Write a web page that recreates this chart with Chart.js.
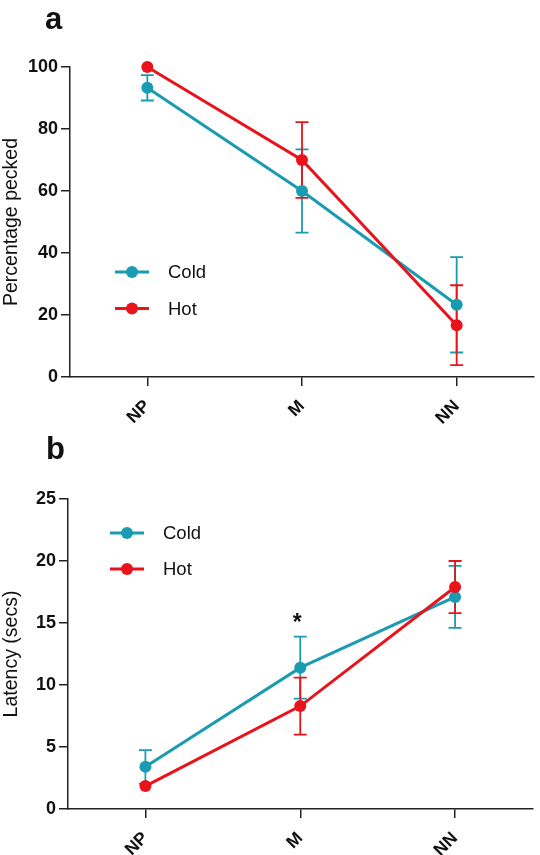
<!DOCTYPE html>
<html><head><meta charset="utf-8">
<script src="https://cdn.jsdelivr.net/npm/chart.js@4/dist/chart.umd.min.js"></script>
<style>
html,body{margin:0;padding:0;background:#fff;width:540px;height:855px;overflow:hidden}
.wrap{position:absolute;left:0;width:540px}
canvas{display:block}
</style></head><body>
<div class="wrap" style="top:0;height:430px"><canvas id="ca" width="540" height="430"></canvas></div>
<div class="wrap" style="top:430px;height:425px"><canvas id="cb" width="540" height="425"></canvas></div>
<script>
// ---- data ----
const categories = ['NP', 'M', 'NN'];
const seriesNames = ['Cold', 'Hot'];
const coldPecked = [93.3, 60.0, 23.3];
const coldPeckedErr = [4.1, 13.4, 15.4];
const hotPecked = [100, 70.0, 16.7];
const hotPeckedErr = [0, 12.2, 12.9];
const coldLatency = [3.4, 11.4, 17.1];
const coldLatencyErr = [1.35, 2.5, 2.5];
const hotLatency = [1.85, 8.3, 17.9];
const hotLatencyErr = [0, 2.3, 2.1];
const peckedTicks = [0, 20, 40, 60, 80, 100];
const latencyTicks = [0, 5, 10, 15, 20, 25];
const latencySignificance = ['', '*', ''];

const COLD = '#1b9bb2';
const HOT = '#e8131b';
const AXIS = '#222';
const FONT = "'Liberation Sans', Arial, Helvetica, sans-serif";

const errorBarPlugin = {
  id: 'errorBars',
  beforeDatasetsDraw(chart) {
    const ctx = chart.ctx;
    const ys = chart.scales.y;
    chart.data.datasets.forEach((ds, di) => {
      const meta = chart.getDatasetMeta(di);
      if (!ds.errors) return;
      ctx.save();
      ctx.strokeStyle = ds.borderColor;
      ctx.lineWidth = 1.8;
      meta.data.forEach((pt, i) => {
        const e = ds.errors[i];
        if (!e) return;
        const x = pt.x;
        const t = ys.getPixelForValue(ds.data[i] + e);
        const b = ys.getPixelForValue(ds.data[i] - e);
        ctx.beginPath();
        ctx.moveTo(x, t); ctx.lineTo(x, b);
        ctx.moveTo(x - 6.5, t); ctx.lineTo(x + 6.5, t);
        ctx.moveTo(x - 6.5, b); ctx.lineTo(x + 6.5, b);
        ctx.stroke();
      });
      ctx.restore();
    });
  }
};

const decorPlugin = {
  id: 'decor',
  afterDraw(chart) {
    const ctx = chart.ctx;
    const o = chart.options.plugins.decor;
    const area = chart.chartArea;
    ctx.save();
    // panel letter
    ctx.fillStyle = '#111';
    ctx.font = 'bold 31px ' + FONT;
    ctx.textAlign = 'left';
    ctx.textBaseline = 'alphabetic';
    ctx.fillText(o.letter, o.letterX, o.letterY);
    // legend
    const lx = area.left + o.legendDX;
    chart.data.datasets.forEach((ds, i) => {
      const y = o.legendY[i];
      ctx.strokeStyle = ds.borderColor;
      ctx.lineWidth = 3;
      ctx.beginPath();
      ctx.moveTo(lx, y); ctx.lineTo(lx + 34, y);
      ctx.stroke();
      ctx.fillStyle = ds.borderColor;
      ctx.beginPath();
      ctx.arc(lx + 17, y, 6, 0, Math.PI * 2);
      ctx.fill();
      ctx.fillStyle = '#111';
      ctx.font = '18.5px ' + FONT;
      ctx.textBaseline = 'middle';
      ctx.fillText(ds.label, lx + 53, y + 1);
    });
    // significance marks
    if (o.sig) {
      const ys = chart.scales.y;
      const meta = chart.getDatasetMeta(0);
      const ds = chart.data.datasets[0];
      ctx.fillStyle = '#111';
      ctx.font = 'bold 23px ' + FONT;
      ctx.textAlign = 'center';
      ctx.textBaseline = 'alphabetic';
      o.sig.forEach((s, i) => {
        if (!s) return;
        const x = meta.data[i].x - 3;
        const y = ys.getPixelForValue(ds.data[i] + ds.errors[i]) - 7;
        ctx.fillText(s, x, y);
      });
    }
    ctx.restore();
  }
};

function makeChart(id, cfg) {
  return new Chart(document.getElementById(id), {
    type: 'line',
    data: {
      labels: categories,
      datasets: [
        { label: seriesNames[0], data: cfg.cold, errors: cfg.coldErr, borderColor: COLD, backgroundColor: COLD,
          pointBackgroundColor: COLD, pointBorderWidth: 0, pointRadius: 6, borderWidth: 3, tension: 0, order: 1, clip: false },
        { label: seriesNames[1], data: cfg.hot, errors: cfg.hotErr, borderColor: HOT, backgroundColor: HOT,
          pointBackgroundColor: HOT, pointBorderWidth: 0, pointRadius: 6, borderWidth: 3, tension: 0, order: 0, clip: false }
      ]
    },
    options: {
      responsive: false,
      animation: false,
      devicePixelRatio: 1,
      layout: { padding: { top: cfg.padTop, right: cfg.padRight, left: 0, bottom: 0 } },
      plugins: {
        legend: { display: false },
        tooltip: { enabled: false },
        decor: { letter: cfg.letter, letterX: cfg.letterX, letterY: cfg.letterY, legendDX: cfg.legendDX, legendY: cfg.legendY, sig: cfg.sig }
      },
      scales: {
        x: {
          type: 'category',
          offset: true,
          grid: { display: true, drawOnChartArea: false, drawTicks: true, tickLength: 9, offset: false, color: AXIS, lineWidth: 1.5 },
          border: { display: true, color: AXIS, width: 1.5 },
          ticks: { maxRotation: 45, minRotation: 45, padding: 10, color: '#111', font: { family: FONT, size: 17.5, weight: 'bold' } },
          afterFit: s => { s.height = cfg.xHeight; }
        },
        y: {
          min: cfg.ticks[0], max: cfg.ticks[cfg.ticks.length - 1],
          afterBuildTicks: s => { s.ticks = cfg.ticks.map(v => ({ value: v })); },
          grid: { display: true, drawOnChartArea: false, drawTicks: true, tickLength: 9, color: AXIS, lineWidth: 1.5 },
          border: { display: true, color: AXIS, width: 1.5 },
          ticks: { padding: 3, color: '#111', font: { family: FONT, size: 18, weight: 'bold' } },
          title: { display: true, text: cfg.yTitle, color: '#111', padding: 0, font: { family: FONT, size: 19.5, weight: 'normal' } },
          afterFit: s => { s.width = cfg.yWidth; }
        }
      }
    },
    plugins: [errorBarPlugin, decorPlugin]
  });
}

makeChart('ca', {
  cold: coldPecked, coldErr: coldPeckedErr, hot: hotPecked, hotErr: hotPeckedErr,
  ticks: peckedTicks, yTitle: 'Percentage pecked',
  padTop: 67, padRight: 5, xHeight: 53, yWidth: 70,
  letter: 'a', letterX: 45, letterY: 29, legendDX: 45, legendY: [272, 308.5]
});
makeChart('cb', {
  cold: coldLatency, coldErr: coldLatencyErr, hot: hotLatency, hotErr: hotLatencyErr,
  ticks: latencyTicks, yTitle: 'Latency (secs)',
  padTop: 69, padRight: 7.5, xHeight: 46, yWidth: 68,
  letter: 'b', letterX: 46, letterY: 29, legendDX: 42, legendY: [103, 139],
  sig: latencySignificance
});
</script>
</body></html>
